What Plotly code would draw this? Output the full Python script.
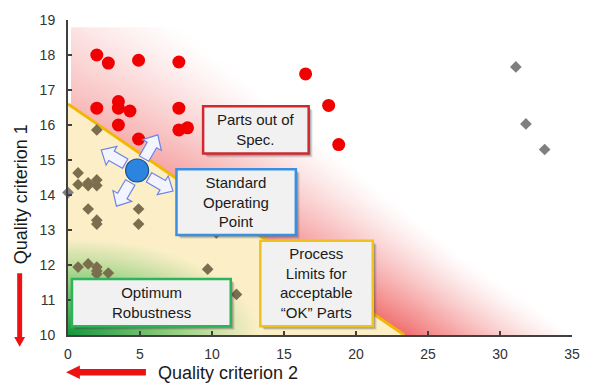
import numpy as np
import plotly.graph_objects as go

# ---------------- data ----------------
# parts out of specification (red)
out_spec_x = [2.0, 2.8, 4.9, 7.7, 2.0, 3.5, 3.5, 4.3, 3.5, 4.9, 7.7, 7.7, 8.3, 16.5, 18.1, 18.8]
out_spec_y = [18.0, 17.77, 17.85, 17.8, 16.48, 16.67, 16.48, 16.4, 16.0, 15.6, 16.48, 15.86, 15.92, 17.46, 16.56, 15.44]

# acceptable parts (olive diamonds)
ok_x = [2.0, 0.7, 0.7, 1.4, 1.4, 2.0, 2.0, 1.4, 2.0, 2.0, 4.9, 4.9, 0.7, 1.4, 2.0, 2.0, 2.0, 2.8, 9.7, 11.7, 10.3]
ok_y = [15.86, 14.63, 14.3, 14.35, 14.27, 14.43, 14.27, 13.6, 13.28, 13.17, 13.6, 13.17, 11.94, 12.03, 11.94, 11.83, 11.74, 11.77, 11.88, 11.16, 12.92]

# other measurements (grey diamonds)
other_x = [0.0, 31.1, 31.8, 33.1]
other_y = [14.07, 17.66, 16.03, 15.3]

# standard operating point
sop_x = [4.8]
sop_y = [14.7]

# process limit line
limit_x = [0.0, 23.35]
limit_y = [16.6, 10.0]

x_ticks = [0, 5, 10, 15, 20, 25, 30, 35]
y_ticks = [10, 11, 12, 13, 14, 15, 16, 17, 18, 19]

# ---------------- layout geometry ----------------
W, H = 592, 387
ML, MR, MT, MB = 68, 13, 14, 52
X_RANGE = [0, 35]
Y_RANGE = [10, 19]
PW, PH = W - ML - MR, H - MT - MB
PPX = PW / (X_RANGE[1] - X_RANGE[0])   # pixels per x unit
PPY = PH / (Y_RANGE[1] - Y_RANGE[0])   # pixels per y unit

FONT = "Liberation Sans, Arial, sans-serif"


def px_to_data(px, py):
    return X_RANGE[0] + (px - ML) / PPX, Y_RANGE[1] - (py - MT) / PPY


def px_to_paper(px, py):
    return (px - ML) / PW, (H - MB - py) / PH


# ---------------- background field ----------------
# One heatmap carries all zones:
#   z in [0, 1]  -> white .. red   (above the limit line, fading away from it)
#   z in [1, 2]  -> cream .. green (below the limit line, green glow at the corner)
gx = np.arange(0.03, 34.75, 0.06)
gy = np.arange(10.015, 18.8, 0.03)
GX, GY = np.meshgrid(gx, gy)
PX = (GX - X_RANGE[0]) * PPX
PY = (GY - Y_RANGE[0]) * PPY
ax_, ay_ = (limit_x[0] - X_RANGE[0]) * PPX, (limit_y[0] - Y_RANGE[0]) * PPY
bx_, by_ = (limit_x[1] - X_RANGE[0]) * PPX, (limit_y[1] - Y_RANGE[0]) * PPY
seg = np.hypot(bx_ - ax_, by_ - ay_)
ux, uy = (bx_ - ax_) / seg, (by_ - ay_) / seg
vx, vy = PX - ax_, PY - ay_
t_along = (vx * ux + vy * uy) / seg
dist = ux * vy - uy * vx                      # > 0 above the limit line

strength = np.clip(0.35 + 0.4 * t_along, 0.35, 0.75)
reach = 135 - 35 * np.clip(t_along, 0, 1)
red_alpha = strength * np.clip(1 - dist / reach, 0, 1) ** 1.3
red_alpha = np.where(GX < 0.22, 0.0, red_alpha)   # thin white gap next to the axis

rr = np.hypot(PX / 195.0, PY / 100.0)
green_i = np.clip(1 - rr, 0, 1) ** 1.1

zone = np.where(dist > 0, red_alpha, 1.0 + green_i)
zone = np.round(zone, 3)

CREAM = "rgb(252,239,200)"

fig = go.Figure()

fig.add_trace(go.Heatmap(
    x=gx, y=gy, z=zone, zmin=0, zmax=2,
    colorscale=[[0, "rgb(255,255,255)"], [0.5, "rgb(235,60,60)"],
                [0.5, CREAM], [0.7, "rgb(150,208,130)"], [1, "rgb(20,150,60)"]],
    showscale=False, hoverinfo="skip"))

fig.add_trace(go.Scatter(
    x=limit_x, y=limit_y, mode="lines",
    line=dict(color="#F2B705", width=3), hoverinfo="skip", showlegend=False))

fig.add_trace(go.Scatter(
    x=ok_x, y=ok_y, mode="markers", cliponaxis=False,
    marker=dict(symbol="diamond", size=9, color="#7A6E4E"), showlegend=False))

fig.add_trace(go.Scatter(
    x=other_x, y=other_y, mode="markers", cliponaxis=False,
    marker=dict(symbol="diamond", size=9, color="#7F7F7F"), showlegend=False))

fig.add_trace(go.Scatter(
    x=out_spec_x, y=out_spec_y, mode="markers", cliponaxis=False,
    marker=dict(symbol="circle", size=13, color="#F00000"), showlegend=False))

fig.add_trace(go.Scatter(
    x=sop_x, y=sop_y, mode="markers", cliponaxis=False,
    marker=dict(symbol="circle", size=23, color="#2B84E0",
                line=dict(color="#1F4E8C", width=1.2)), showlegend=False))

shapes = []

# ---------------- labelled boxes ----------------
boxes = [
    # (left, top, right, bottom) in pixels, border colour, text
    ((205, 102, 312, 150), "#CF2A30", "Parts out of<br>Spec."),
    ((178, 166, 299, 233), "#3A8FE0", "Standard<br>Operating<br>Point"),
    ((263, 239, 377, 326), "#F0C21E", "Process<br>Limits for<br>acceptable<br>\u201cOK\u201d Parts"),
    ((72, 278, 233, 326), "#2DB35A", "Optimum<br>Robustness"),
]

annotations = []
for (l, t, r, b), col, txt in boxes:
    for off, op in ((4, 0.12), (3, 0.18), (2, 0.25)):
        x0, y0 = px_to_data(l + off, t + off)
        x1, y1 = px_to_data(r + off, b + off)
        shapes.append(dict(type="rect", xref="x", yref="y", x0=x0, y0=y0, x1=x1, y1=y1,
                           fillcolor=f"rgba(60,60,60,{op})", line=dict(width=0), layer="above"))
    x0, y0 = px_to_data(l, t)
    x1, y1 = px_to_data(r, b)
    shapes.append(dict(type="rect", xref="x", yref="y", x0=x0, y0=y0, x1=x1, y1=y1,
                       fillcolor="#F1F1F1", line=dict(color=col, width=2.5), layer="above"))
    cx, cy = px_to_data((l + r) / 2, (t + b) / 2)
    annotations.append(dict(x=cx, y=cy, xref="x", yref="y", text=txt, showarrow=False,
                            font=dict(family=FONT, size=15, color="#1A1A1A"),
                            xanchor="center", yanchor="middle", align="center"))

# ---------------- arrows around the operating point ----------------
for ang in (60, 150, -30, 240):
    a = np.radians(ang)
    u = np.array([np.cos(a), np.sin(a)])
    n = np.array([-np.sin(a), np.cos(a)])
    s, L, w, h, hl = 14.0, 28.0, 5.5, 11.0, 12.0
    pts = [s * u + w * n, (s + L - hl) * u + w * n, (s + L - hl) * u + h * n,
           (s + L) * u, (s + L - hl) * u - h * n, (s + L - hl) * u - w * n, s * u - w * n]
    path = "M " + " L ".join(f"{sop_x[0] + p[0] / PPX:.4f},{sop_y[0] + p[1] / PPY:.4f}" for p in pts) + " Z"
    shapes.append(dict(type="path", xref="x", yref="y", path=path,
                       fillcolor="#F2F5FF", line=dict(color="#6F83E6", width=1.2), layer="above"))


# ---------------- red direction arrows next to the axis titles ----------------
def paper_poly(points):
    return "M " + " L ".join("{:.4f},{:.4f}".format(*px_to_paper(px, py)) for px, py in points) + " Z"


vx0 = 19
shapes.append(dict(type="path", xref="paper", yref="paper", line=dict(width=0), fillcolor="#EE1111",
                   path=paper_poly([(vx0 - 2.5, 272), (vx0 + 2.5, 272), (vx0 + 2.5, 337), (vx0 + 5.5, 337),
                                    (vx0, 347), (vx0 - 5.5, 337), (vx0 - 2.5, 337)])))
hy0 = 373
shapes.append(dict(type="path", xref="paper", yref="paper", line=dict(width=0), fillcolor="#EE1111",
                   path=paper_poly([(147, hy0 - 3.3), (147, hy0 + 3.3), (80, hy0 + 3.3), (80, hy0 + 6.8),
                                    (66, hy0), (80, hy0 - 6.8), (80, hy0 - 3.3)])))

# axis titles
tx, ty = px_to_paper(230, 374)
annotations.append(dict(x=tx, y=ty, xref="paper", yref="paper", text="Quality criterion 2",
                        showarrow=False, xanchor="center", yanchor="middle",
                        font=dict(family=FONT, size=18, color="#1A1A1A")))
tx, ty = px_to_paper(20, 192)
annotations.append(dict(x=tx, y=ty, xref="paper", yref="paper", text="Quality criterion 1",
                        showarrow=False, xanchor="center", yanchor="middle", textangle=-90,
                        font=dict(family=FONT, size=18, color="#1A1A1A")))

axis_common = dict(showgrid=False, zeroline=False, showline=True, linecolor="#404040", linewidth=2,
                   ticks="inside", ticklen=4, tickwidth=1.5, tickcolor="#404040",
                   tickfont=dict(family=FONT, size=14, color="#333333"), fixedrange=True)

fig.update_layout(
    width=W, height=H,
    margin=dict(l=ML, r=MR, t=MT, b=MB, pad=0),
    paper_bgcolor="white", plot_bgcolor="white",
    showlegend=False,
    xaxis=dict(range=X_RANGE, tickvals=x_ticks, ticklabelstandoff=5, **axis_common),
    yaxis=dict(range=Y_RANGE, tickvals=y_ticks, ticklabelstandoff=8, **axis_common),
    shapes=shapes,
    annotations=annotations,
)

fig.write_html("out.html")
